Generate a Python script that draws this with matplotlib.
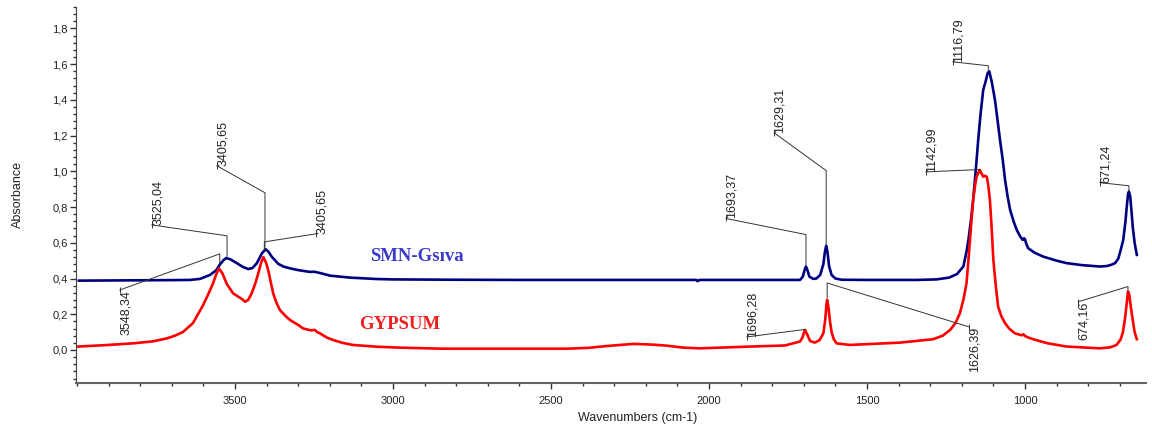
import matplotlib
matplotlib.use('Agg')
from matplotlib import pyplot as plt
from matplotlib.ticker import MultipleLocator, FixedLocator, FuncFormatter

# SMN-Gsiva spectrum (wavenumber cm-1, absorbance)
smn_wn = [3994, 3900, 3800, 3700, 3642, 3610, 3579, 3560, 3547, 3535, 3528, 3515,
          3495, 3475, 3458, 3445, 3431, 3415, 3403, 3394, 3384, 3363, 3345, 3326,
          3300, 3263, 3250, 3241, 3225, 3199, 3136, 3050, 3000, 2800, 2600, 2400,
          2200, 2040, 2036, 2030, 1900, 1800, 1712, 1703, 1697, 1693, 1689, 1682,
          1670, 1660, 1648, 1638, 1633, 1629, 1625, 1620, 1612, 1600, 1580, 1500,
          1400, 1343, 1280, 1240, 1215, 1195, 1185, 1179, 1170, 1164, 1156, 1148,
          1140, 1132, 1125, 1118, 1113, 1105, 1095, 1087, 1079, 1070, 1063, 1055,
          1047, 1036, 1026, 1015, 1007, 1003, 1000, 996, 990, 970, 943, 900, 868,
          820, 763, 740, 725, 715, 705, 697, 689, 682, 678, 674, 671, 667, 663,
          659, 653, 646]
smn_abs = [0.388, 0.389, 0.390, 0.391, 0.392, 0.398, 0.420, 0.445, 0.480, 0.505, 0.514, 0.508,
           0.487, 0.465, 0.453, 0.458, 0.485, 0.540, 0.564, 0.550, 0.523, 0.482, 0.466, 0.457,
           0.447, 0.437, 0.438, 0.435, 0.428, 0.416, 0.405, 0.397, 0.395, 0.393, 0.392, 0.392,
           0.392, 0.392, 0.385, 0.392, 0.392, 0.392, 0.392, 0.410, 0.450, 0.467, 0.450, 0.410,
           0.398, 0.400, 0.420, 0.480, 0.550, 0.583, 0.550, 0.470, 0.420, 0.400, 0.393, 0.392,
           0.392, 0.392, 0.395, 0.405, 0.425, 0.467, 0.550, 0.616, 0.740, 0.840, 1.000, 1.176,
           1.330, 1.457, 1.500, 1.550, 1.560, 1.500, 1.400, 1.290, 1.176, 1.060, 0.952, 0.860,
           0.784, 0.720, 0.672, 0.635, 0.616, 0.625, 0.620, 0.595, 0.570, 0.545, 0.523, 0.500, 0.486,
           0.475, 0.467, 0.470, 0.478, 0.486, 0.510, 0.560, 0.616, 0.720, 0.800, 0.870, 0.887, 0.860, 0.780,
           0.690, 0.600, 0.532]

# GYPSUM spectrum
gyp_wn = [3997, 3900, 3823, 3760, 3715, 3690, 3665, 3633, 3601, 3585, 3570, 3560,
          3551, 3540, 3526, 3506, 3491, 3478, 3468, 3458, 3447, 3436, 3426, 3417,
          3410, 3402, 3395, 3379, 3370, 3358, 3340, 3326, 3300, 3284, 3260, 3247,
          3240, 3231, 3210, 3190, 3160, 3127, 3050, 2978, 2842, 2449, 2380, 2323,
          2240, 2180, 2133, 2082, 2029, 1870, 1760, 1712, 1704, 1699, 1696, 1690,
          1680, 1665, 1650, 1638, 1632, 1628, 1626, 1622, 1617, 1612, 1605, 1596,
          1554, 1396, 1291, 1260, 1237, 1220, 1206, 1195, 1185, 1180, 1174, 1169,
          1164, 1158, 1153, 1148, 1143, 1138, 1132, 1127, 1121, 1116, 1111, 1106,
          1100, 1093, 1085, 1075, 1063, 1050, 1032, 1010, 1005, 1000, 990, 974,
          930, 868, 763, 730, 710, 697, 690, 684, 678, 674, 670, 665, 659, 653, 646]
gyp_abs = [0.019, 0.028, 0.037, 0.048, 0.065, 0.080, 0.100, 0.150, 0.250, 0.310, 0.370, 0.420,
           0.457, 0.430, 0.370, 0.317, 0.300, 0.285, 0.270, 0.280, 0.317, 0.370, 0.430, 0.490,
           0.520, 0.490, 0.448, 0.317, 0.270, 0.224, 0.190, 0.168, 0.140, 0.120, 0.110, 0.112,
           0.100, 0.093, 0.070, 0.056, 0.040, 0.028, 0.018, 0.013, 0.007, 0.007, 0.012, 0.022,
           0.034, 0.030, 0.024, 0.013, 0.009, 0.019, 0.025, 0.047, 0.070, 0.100, 0.112, 0.090,
           0.050, 0.041, 0.055, 0.093, 0.170, 0.260, 0.280, 0.240, 0.160, 0.100, 0.060, 0.037,
           0.028, 0.041, 0.060, 0.080, 0.112, 0.150, 0.205, 0.280, 0.373, 0.480, 0.616, 0.730,
           0.840, 0.920, 0.970, 0.990, 1.008, 0.990, 0.970, 0.975, 0.970, 0.920, 0.840, 0.700,
           0.504, 0.370, 0.243, 0.190, 0.150, 0.120, 0.093, 0.082, 0.088, 0.078, 0.070, 0.060,
           0.038, 0.019, 0.009, 0.015, 0.028, 0.060, 0.100, 0.168, 0.260, 0.327, 0.310, 0.240, 0.168, 0.100, 0.060]

x_ticks = [1000, 1500, 2000, 2500, 3000, 3500]

# peak labels: text, peak x, line start y, knee y, label x, label y, text below line end?
peak_labels = [
  ('3525,04', 3525, 0.520, 0.639, 3763, 0.700, False),
  ('3405,65', 3405, 0.570, 0.880, 3557, 1.031, False),
  ('3405,65', 3407, 0.560, 0.605, 3244, 0.650, False),
  ('3548,34', 3548, 0.487, 0.538, 3864, 0.336, True),
  ('1693,37', 1693, 0.470, 0.646, 1946, 0.736, False),
  ('1629,31', 1629, 0.590, 1.004, 1794, 1.216, False),
  ('1626,39', 1626, 0.290, 0.375, 1177, 0.129, True),
  ('1696,28', 1696, 0.115, 0.115, 1880, 0.073, False),
  ('1116,79', 1116, 1.565, 1.591, 1228, 1.613, False),
  ('1142,99', 1143, 1.010, 1.010, 1313, 0.997, False),
  ('671,24', 671, 0.890, 0.919, 763, 0.937, False),
  ('674,16', 674, 0.330, 0.355, 831, 0.270, True),
]

SANS = ['Liberation Sans', 'DejaVu Sans']
SERIF = ['Liberation Serif', 'DejaVu Serif']

fig = plt.figure(figsize = (11.52, 4.3), dpi = 100)
ax = fig.add_axes([76 / 1152, 47 / 430, 1070 / 1152, 376 / 430])

ax.plot(smn_wn, smn_abs, color = '#000080', linewidth = 1.9, solid_joinstyle = 'round')
ax.plot(gyp_wn, gyp_abs, color = '#ff0000', linewidth = 1.9, solid_joinstyle = 'round')

for txt, px, y0, yk, ex, ey, below in peak_labels:
  ax.plot([px, px, ex], [y0, yk, ey], color = '#333333', linewidth = 0.7)
  ax.plot([ex], [ey], marker = '|', markersize = 5, color = '#333333', markeredgewidth = 0.7)
  ax.text(ex, ey, txt, rotation = 90, fontsize = 9, family = SANS, color = '#222222',
          ha = 'left', va = 'top' if below else 'bottom')

ax.text(2924, 0.521, 'SMN-Gs\u0131va', color = '#3a3acd', fontsize = 13.5, weight = 'bold',
        family = SERIF, ha = 'center', va = 'center')
ax.text(2978, 0.140, 'GYPSUM', color = '#f02020', fontsize = 13.5, weight = 'bold',
        family = SERIF, ha = 'center', va = 'center')

ax.set_xlim(4003, 617)
ax.set_ylim(-0.185, 1.92)

ax.xaxis.set_major_locator(FixedLocator(x_ticks))
ax.xaxis.set_minor_locator(MultipleLocator(100))
ax.yaxis.set_major_locator(MultipleLocator(0.2))
ax.yaxis.set_minor_locator(MultipleLocator(0.04))
ax.xaxis.set_major_formatter(FuncFormatter(lambda v, p: '{:.0f}'.format(v)))
ax.yaxis.set_major_formatter(FuncFormatter(lambda v, p: '{:.1f}'.format(v).replace('.', ',')))

for lab in ax.get_xticklabels() + ax.get_yticklabels():
  lab.set_family(SANS)
ax.tick_params(axis = 'both', which = 'major', labelsize = 8, length = 4, width = 1,
               color = '#333333', labelcolor = '#222222')
ax.tick_params(axis = 'both', which = 'minor', length = 2, width = 1, color = '#333333')
ax.tick_params(axis = 'x', which = 'major', pad = 5)
ax.tick_params(axis = 'y', which = 'major', pad = 2)

ax.spines['top'].set_visible(False)
ax.spines['right'].set_visible(False)
ax.spines['left'].set_color('#444444')
ax.spines['bottom'].set_color('#666666')
ax.spines['bottom'].set_linewidth(1.5)

fig.text(18 / 1152, 1 - 194 / 430, 'Absorbance', rotation = 90, fontsize = 9,
         family = SANS, ha = 'center', va = 'center', color = '#222222')
fig.text(638 / 1152, 1 - 418 / 430, 'Wavenumbers (cm-1)', fontsize = 9,
         family = SANS, ha = 'center', va = 'center', color = '#222222')

fig.savefig('out.png', dpi = 100)
